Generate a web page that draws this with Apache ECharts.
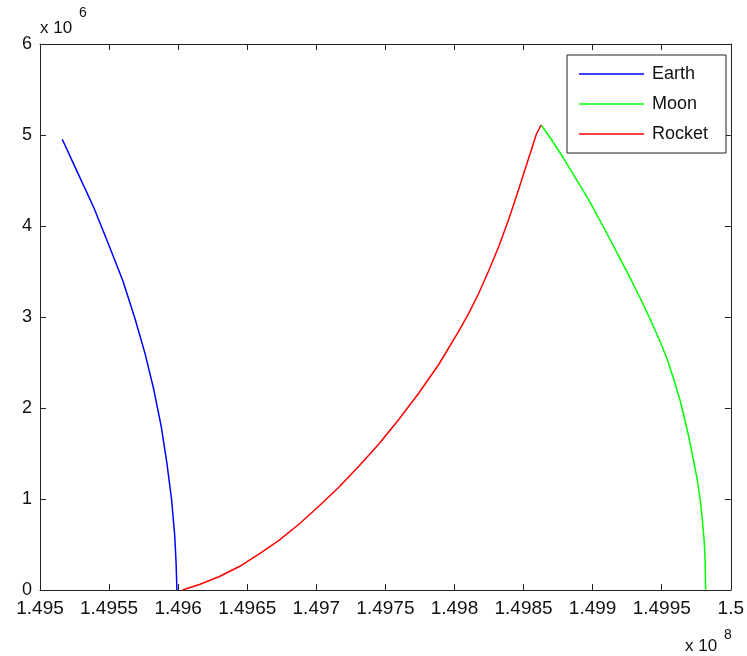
<!DOCTYPE html>
<html>
<head>
<meta charset="utf-8">
<script src="https://cdn.jsdelivr.net/npm/echarts@6/dist/echarts.min.js"></script>
<style>
html,body{margin:0;padding:0;background:#fff;}
#chart{width:747px;height:656px;}
</style>
</head>
<body>
<div id="chart"></div>
<script>
// x values in units of 1e8, y values in units of 1e6
var seriesNames = ['Earth', 'Moon', 'Rocket'];
var xTicks = [1.495, 1.4955, 1.496, 1.4965, 1.497, 1.4975, 1.498, 1.4985, 1.499, 1.4995, 1.5];
var yTicks = [0, 1, 2, 3, 4, 5, 6];

var earthX = [1.495161, 1.495268, 1.495390, 1.495496, 1.495599, 1.495684, 1.495760, 1.495824, 1.495877, 1.495918, 1.495952, 1.495975, 1.495985, 1.495991];
var earthY = [4.953, 4.600, 4.200, 3.800, 3.400, 3.000, 2.600, 2.200, 1.800, 1.400, 1.000, 0.600, 0.300, 0.0];

var moonX = [1.498627, 1.498704, 1.498797, 1.498885, 1.498972, 1.499051, 1.499128, 1.499204, 1.499279, 1.499351, 1.499419, 1.499484, 1.499542, 1.499589, 1.499632, 1.499668, 1.499701, 1.499729, 1.499758, 1.499779, 1.499794, 1.499807, 1.499814, 1.499818];
var moonY = [5.110, 4.945, 4.725, 4.505, 4.286, 4.066, 3.846, 3.626, 3.407, 3.187, 2.967, 2.747, 2.527, 2.308, 2.088, 1.868, 1.648, 1.429, 1.209, 0.989, 0.769, 0.549, 0.330, 0.0];

var rocketX = [1.496032, 1.496154, 1.496299, 1.496443, 1.496587, 1.496732, 1.496876, 1.497020, 1.497165, 1.497309, 1.497453, 1.497597, 1.497742, 1.497886, 1.498030, 1.498102, 1.498175, 1.498247, 1.498319, 1.498391, 1.498463, 1.498535, 1.498593, 1.498627];
var rocketY = [0.0, 0.060, 0.148, 0.258, 0.396, 0.549, 0.725, 0.923, 1.132, 1.363, 1.604, 1.874, 2.165, 2.478, 2.841, 3.038, 3.258, 3.505, 3.769, 4.066, 4.396, 4.736, 5.011, 5.110];

function zip(xs, ys) { return xs.map(function (x, i) { return [x, ys[i]]; }); }

var chart = echarts.init(document.getElementById('chart'));
var font = '"Liberation Sans", Arial, Helvetica, sans-serif';
var axisColor = '#222';

function xAxisDef(pos, showLabel) {
  return {
    type: 'value', position: pos,
    min: xTicks[0], max: xTicks[xTicks.length - 1], interval: 0.0005,
    splitLine: { show: false },
    axisLine: { show: true, onZero: false, lineStyle: { color: axisColor, width: 1 } },
    axisTick: { show: true, inside: true, length: 6, lineStyle: { color: axisColor, width: 1 } },
    axisLabel: {
      show: showLabel, margin: 9, color: '#111', fontSize: 19, fontFamily: font,
      formatter: function (v) { return String(parseFloat(v.toFixed(4))); }
    }
  };
}
function yAxisDef(pos, showLabel) {
  return {
    type: 'value', position: pos,
    min: yTicks[0], max: yTicks[yTicks.length - 1], interval: 1,
    splitLine: { show: false },
    axisLine: { show: true, onZero: false, lineStyle: { color: axisColor, width: 1 } },
    axisTick: { show: true, inside: true, length: 6, lineStyle: { color: axisColor, width: 1 } },
    axisLabel: { show: showLabel, margin: 8, color: '#111', fontSize: 18, fontFamily: font }
  };
}

var colors = ['#0000ff', '#00ff00', '#ff0000'];
var lineIcon = 'path://M0,0L65,0L65,1.5L0,1.5Z';

function lineSeries(i, xs, ys) {
  return {
    name: seriesNames[i], type: 'line', data: zip(xs, ys), showSymbol: false,
    smooth: false,
    lineStyle: { color: colors[i], width: 1.5 }, itemStyle: { color: colors[i] }
  };
}

chart.setOption({
  animation: false,
  backgroundColor: '#ffffff',
  grid: { left: 40, top: 44, right: 14, bottom: 66, containLabel: false },
  xAxis: [xAxisDef('bottom', true), xAxisDef('top', false)],
  yAxis: [yAxisDef('left', true), yAxisDef('right', false)],
  legend: {
    orient: 'vertical', left: 567, top: 55,
    padding: [10, 18, 10, 12],
    itemWidth: 65, itemHeight: 20, itemGap: 12,
    borderColor: '#222', borderWidth: 1, backgroundColor: '#fff',
    textStyle: { fontSize: 18, fontFamily: font, color: '#111', padding: [0, 0, 0, 3] },
    data: seriesNames.map(function (n) { return { name: n, icon: lineIcon }; })
  },
  graphic: [
    { type: 'text', left: 40, top: 20, style: { text: 'x 10', fontSize: 17, fontFamily: font, fill: '#111' } },
    { type: 'text', left: 79, top: 6, style: { text: '6', fontSize: 14, fontFamily: font, fill: '#111' } },
    { type: 'text', left: 685, top: 638, style: { text: 'x 10', fontSize: 17, fontFamily: font, fill: '#111' } },
    { type: 'text', left: 724, top: 628, style: { text: '8', fontSize: 14, fontFamily: font, fill: '#111' } }
  ],
  series: [
    lineSeries(0, earthX, earthY),
    lineSeries(1, moonX, moonY),
    lineSeries(2, rocketX, rocketY)
  ]
});
</script>
</body>
</html>
